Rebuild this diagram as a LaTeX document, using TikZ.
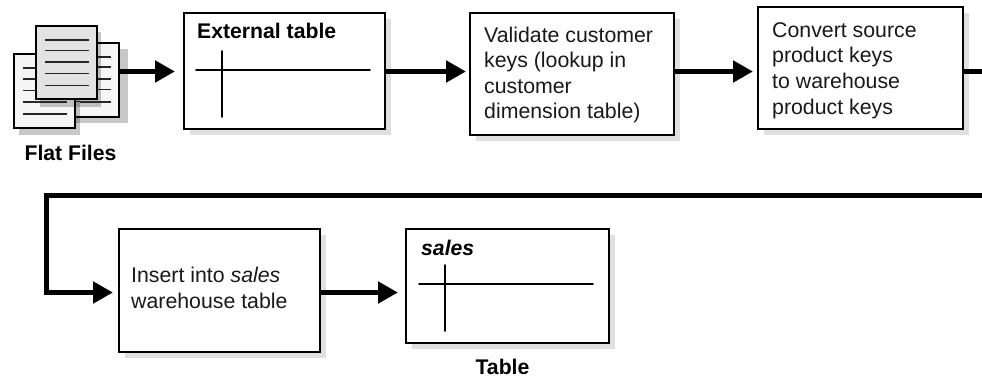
\documentclass[tikz,border=0pt]{standalone}
\usepackage{fontspec}
\setmainfont{Liberation Sans}
\usetikzlibrary{arrows.meta,shadows}
\tikzset{
  x=1pt,y=-1pt,
  boxtext/.style={font=\fontsize{21.3}{25.6}\selectfont,inner sep=0pt,align=left,text=black!90},
  boldtext/.style={font=\fontsize{21.2}{25.6}\selectfont\bfseries,inner sep=0pt},
  procbox/.style={draw=black,line width=2.2pt,fill=white,rectangle,outer sep=0pt,inner sep=0pt,
    general shadow={fill=black!12,shadow xshift=6pt,shadow yshift=-5.5pt}},
  page/.style={draw=black,line width=1.6pt,fill=#1,rectangle,outer sep=0pt,inner sep=0pt},
  pageshadow/.style={fill=black,opacity=.22},
  pageline/.style={line width=1.2pt,black!85},
  gridline/.style={line width=1.9pt,black,line cap=round},
  flow/.style={line width=5pt,-{Triangle[length=20pt,width=21pt]}},
  flowplain/.style={line width=5pt},
}
\begin{document}
\begin{tikzpicture}
\useasboundingbox (0,0) rectangle (982,378);
\coordinate (rowA) at (0,71.5);
\coordinate (rowB) at (0,195);
\coordinate (rowC) at (0,292.5);

% flat files icon
\fill[pageshadow] (64,49) rectangle (128,123);
\node[page=black!4,minimum width=61pt,minimum height=74pt] (fileback) at (88.5,80) {};
\foreach \y in {57,67,79,89.5,101.5} \draw[pageline] (70,\y) -- (111,\y);
\fill[pageshadow] (19,60) rectangle (80,134.5);
\node[page=black!4,minimum width=61pt,minimum height=74pt] (fileleft) at (44.5,91) {};
\fill[pageshadow] (40,32) rectangle (101,107);
\foreach \y in {68,79,90.5,102,114} \draw[pageline] (23,\y) -- (67,\y);
\foreach \y in {102} \draw[pageline] (80,\y) -- (111,\y);
\node[page=black!11,minimum width=61pt,minimum height=73pt] (filefront) at (66.5,62.5) {};
\foreach \y in {40,50.5,62,73.5,85.5} \draw[pageline] (45,\y) -- (89,\y);
\node[boldtext,anchor=base] (flatlabel) at (70.5,160) {Flat Files};

% process boxes
\node[procbox,minimum width=201pt,minimum height=116pt] (ext) at (284.5,71) {};
\node[boldtext,anchor=base west] (exttitle) at (197,38.5) {External table};
\coordinate (exth1) at (196,70); \coordinate (exth2) at (370,70);
\coordinate (extv1) at (222,51); \coordinate (extv2) at (222,117);
\draw[gridline] (exth1) -- (exth2);
\draw[gridline] (extv1) -- (extv2);

\node[procbox,minimum width=204pt,minimum height=122pt] (val) at (572,74) {};
\node[boxtext,anchor=west] (valtext) at (484,75) {Validate customer\\keys (lookup in\\customer\\dimension table)};

\node[procbox,minimum width=205pt,minimum height=122pt] (conv) at (860.5,68) {};
\node[boxtext,anchor=west] (convtext) at (772,70.5) {Convert source\\product keys\\to warehouse\\product keys};

\node[procbox,minimum width=201pt,minimum height=123pt] (ins) at (219.5,290.5) {};
\node[boxtext,anchor=west] (instext) at (131,288) {Insert into \textit{sales}\\warehouse table};

\node[procbox,minimum width=203pt,minimum height=114pt] (sales) at (507.5,286) {};
\node[boldtext,anchor=base west] (salestitle) at (421,255) {\textit{sales}};
\coordinate (salh1) at (419,284); \coordinate (salh2) at (593,284);
\coordinate (salv1) at (445,265); \coordinate (salv2) at (445,331);
\draw[gridline] (salh1) -- (salh2);
\draw[gridline] (salv1) -- (salv2);
\node[boldtext,anchor=base] (tablelabel) at (502.5,374) {Table};

% connectors
\coordinate (outR) at (982,71.5);
\coordinate (backR) at (982,195);
\coordinate (backL) at (46,195);
\coordinate (downL) at (46,292.5);
\draw[flow,shorten >=9pt] (fileback.east |- rowA) -- (ext.west |- rowA);
\draw[flow,shorten >=4pt] (ext.east |- rowA) -- (val.west |- rowA);
\draw[flow,shorten >=5pt] (val.east |- rowA) -- (conv.west |- rowA);
\draw[flowplain] (conv.east |- rowA) -- (outR);
\draw[flow,shorten >=6pt,line join=miter] (backR) -- (backL) -- (downL) -- (ins.west |- rowC);
\draw[flow,shorten >=8pt] (ins.east |- rowC) -- (sales.west |- rowC);
\end{tikzpicture}
\end{document}
